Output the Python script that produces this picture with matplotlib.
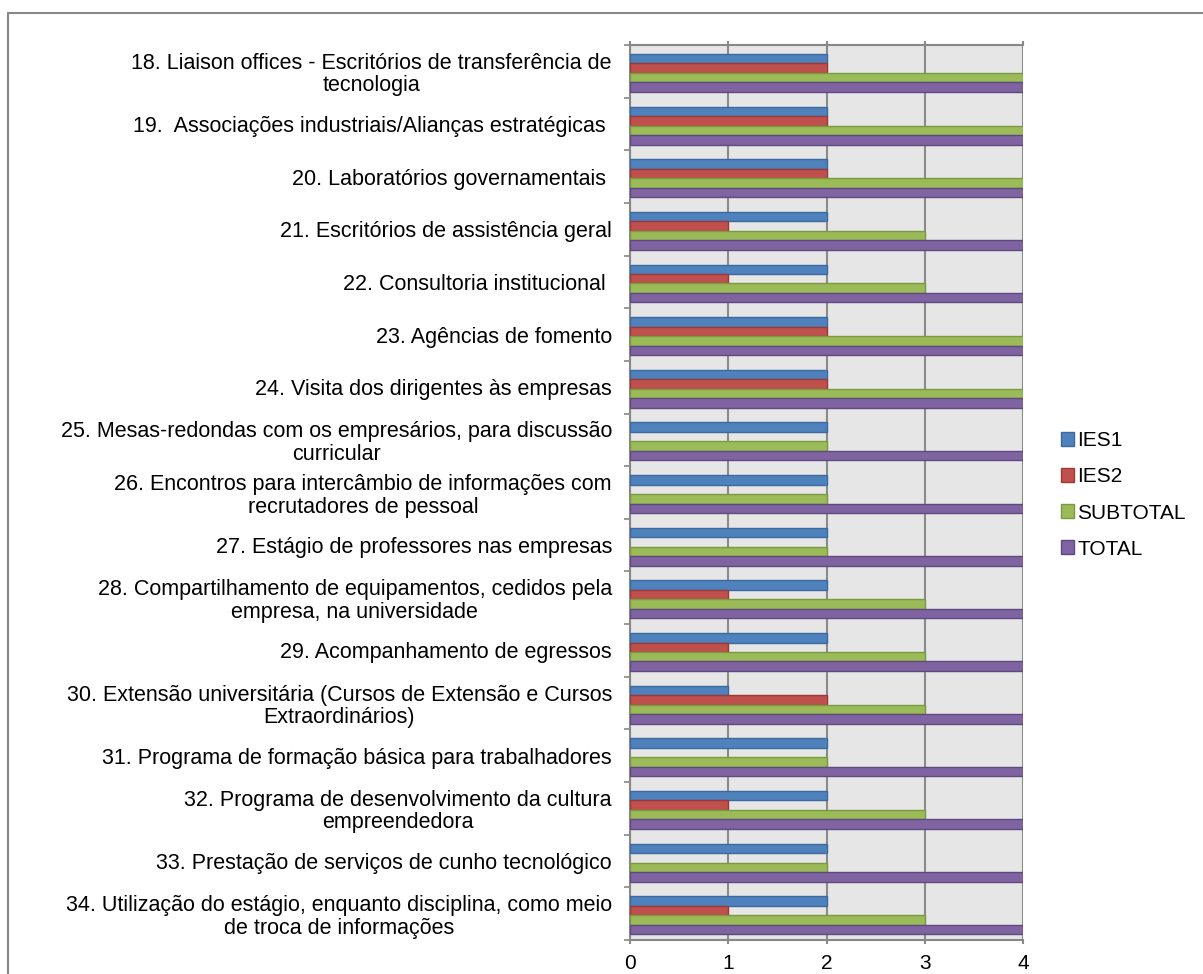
import numpy as np
import matplotlib.pyplot as plt
from matplotlib.patches import Rectangle

plt.rcParams['font.family'] = ['Liberation Sans', 'DejaVu Sans']

categories = [
    "18. Liaison offices - Escritórios de transferência de\ntecnologia",
    "19.  Associações industriais/Alianças estratégicas ",
    "20. Laboratórios governamentais ",
    "21. Escritórios de assistência geral",
    "22. Consultoria institucional ",
    "23. Agências de fomento",
    "24. Visita dos dirigentes às empresas",
    "25. Mesas-redondas com os empresários, para discussão\ncurricular",
    "26. Encontros para intercâmbio de informações com\nrecrutadores de pessoal",
    "27. Estágio de professores nas empresas",
    "28. Compartilhamento de equipamentos, cedidos pela\nempresa, na universidade",
    "29. Acompanhamento de egressos",
    "30. Extensão universitária (Cursos de Extensão e Cursos\nExtraordinários)",
    "31. Programa de formação básica para trabalhadores",
    "32. Programa de desenvolvimento da cultura\nempreendedora",
    "33. Prestação de serviços de cunho tecnológico",
    "34. Utilização do estágio, enquanto disciplina, como meio\nde troca de informações",
]
ies1 = [2, 2, 2, 2, 2, 2, 2, 2, 2, 2, 2, 2, 1, 2, 2, 2, 2]
ies2 = [2, 2, 2, 1, 1, 2, 2, 0, 0, 0, 1, 1, 2, 0, 1, 0, 1]
subtotal = [4, 4, 4, 3, 3, 4, 4, 2, 2, 2, 3, 3, 3, 2, 3, 2, 3]
total = [4, 4, 4, 4, 4, 4, 4, 4, 4, 4, 4, 4, 4, 4, 4, 4, 4]

series = [
    ("IES1", ies1, '#4f81bd', '#3a6a9e'),
    ("IES2", ies2, '#c0504d', '#9a3a38'),
    ("SUBTOTAL", subtotal, '#9bbb59', '#7a9a40'),
    ("TOTAL", total, '#8064a2', '#5f4a80'),
]

fs = 15.5

fig = plt.figure(figsize=(12.03, 9.74), dpi=100)
W, H = 1203, 974
ax = fig.add_axes([630 / W, 1 - 940 / H, (1023 - 630) / W, (940 - 45) / H])

# outer chart border (left/top visible)
fig.patches.append(Rectangle((8 / W, -0.05), 1.2, 1 - 13 / H + 0.05,
                             transform=fig.transFigure, fill=False,
                             edgecolor='#888888', linewidth=1.5))

y = np.arange(len(categories))
h = 0.18
for i, (name, vals, col, ec) in enumerate(series):
    bars = ax.barh(y + (i - 1.5) * h + 0.03, vals, height=h, color=col,
                   edgecolor=ec, linewidth=1, label=name, zorder=3)
    for b in bars:
        if b.get_width() == 0:
            b.set_visible(False)

ax.set_facecolor('#e6e6e6')
ax.set_xlim(0, 4)
ax.set_ylim(len(categories) - 0.5, -0.5)
ax.set_xticks([0, 1, 2, 3, 4])
ax.xaxis.grid(True, color='#8a8a8a', linewidth=1.5, zorder=1)
ax.set_axisbelow(True)

ax.set_yticks(y)
ax.set_yticklabels(categories, ha='right', multialignment='center',
                   linespacing=1.1)
ax.set_yticks(np.arange(len(categories) + 1) - 0.5, minor=True)
ax.tick_params(axis='y', which='major', length=0, pad=13, labelsize=fs)
ax.tick_params(axis='y', which='minor', length=4.5, width=1.2, color='#888888')
ax.tick_params(axis='x', which='major', length=3, width=1.5, color='#8a8a8a',
               pad=7, labelsize=15, top=True, direction='out')

for s in ['left', 'top', 'bottom']:
    ax.spines[s].set_color('#888888')
    ax.spines[s].set_linewidth(1.5)
ax.spines['right'].set_visible(False)

fig.legend(loc='center left', bbox_to_anchor=(1042 / W, 1 - 495 / H),
           frameon=False, fontsize=15, handlelength=0.65, handleheight=0.65,
           handletextpad=0.15, labelspacing=0.82)

fig.savefig('out.png', dpi=100)
